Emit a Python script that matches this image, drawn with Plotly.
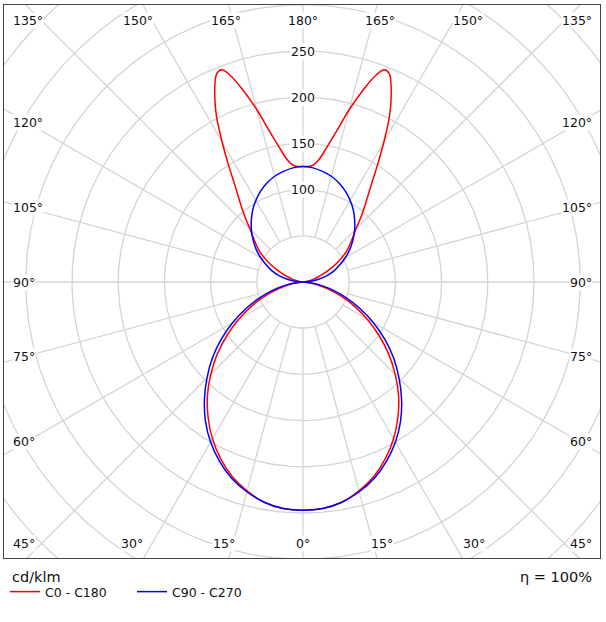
import numpy as np
import plotly.graph_objects as go

# ---------------- data (cd/klm vs gamma angle, 0 = down, 180 = up) ----------------
gamma_c0 = [0, 5, 10, 15, 20, 25, 30, 35, 40, 45, 50, 55, 60, 65, 70, 75, 80, 85, 90,
            95, 100, 105, 110, 115, 120, 125, 130, 132.5, 135, 137.5, 140, 142.5, 145,
            147.5, 150, 152.5, 155, 157.5, 159, 160.5, 162.5, 165, 167.5, 170, 172.5, 175, 177.5, 180]
c0_c180 = [247, 246, 242, 234, 224, 211, 196, 179, 161, 141, 121, 100, 80, 61, 43, 27, 14, 5, 0,
           2, 6, 12, 20, 31, 44, 57, 68, 74, 81, 91, 102, 114, 129,
           150, 175, 203, 226, 244, 246, 238, 219, 193, 167, 148, 134, 127, 125, 125]

gamma_c90 = list(range(0, 181, 5))
c90_c270 = [247, 246, 242, 235, 226, 214, 200, 184, 166, 147, 128, 108, 88, 68, 50, 33, 18, 6, 0,
            8, 17, 27, 36, 44, 53, 62, 70.5, 79, 87, 95, 102, 108.5, 114, 118.5, 121.5, 124, 125]

series_names = ["C0 - C180", "C90 - C270"]
series_colors = ["#ff0000", "#0000ff"]

circle_values = [50, 100, 150, 200, 250, 300, 350, 400, 450]
radial_labels = [100, 150, 200, 250]
spoke_angles = list(range(0, 360, 15))
angle_labels = list(range(0, 181, 15))
unit_label = "cd/klm"
efficiency_label = "η = 100%"

# ---------------- geometry ----------------
W, H = 606, 622
L, R, T, B = 4, 600, 5, 558      # plot box in px
CX, CY = 303, 282                # pole in px
PX = 0.924                       # px per cd/klm
x_range = [(L - CX) / PX, (R - CX) / PX]
y_range = [(CY - B) / PX, (CY - T) / PX]
FONT = "DejaVu Sans"


def polar_curve(gam, val):
    g = np.radians(np.asarray(gam, float))
    v = np.asarray(val, float)
    xr = v * np.sin(g)
    yr = -v * np.cos(g)
    x = np.concatenate([xr, -xr[::-1][1:]])
    y = np.concatenate([yr, yr[::-1][1:]])
    return x, y


fig = go.Figure()

# grid circles
t = np.linspace(0, 2 * np.pi, 721)
gx, gy = [], []
for r in circle_values:
    gx += list(r * np.cos(t)) + [None]
    gy += list(r * np.sin(t)) + [None]
fig.add_trace(go.Scatter(x=gx, y=gy, mode="lines", line=dict(color="#d4d4d4", width=1.3),
                         hoverinfo="skip", showlegend=False))

# spokes
sx, sy = [], []
for a in spoke_angles:
    ar = np.radians(a)
    sx += [circle_values[0] * np.sin(ar), 800 * np.sin(ar), None]
    sy += [-circle_values[0] * np.cos(ar), -800 * np.cos(ar), None]
fig.add_trace(go.Scatter(x=sx, y=sy, mode="lines", line=dict(color="#d4d4d4", width=1.3),
                         hoverinfo="skip", showlegend=False))

# curves
for (gam, val), name, col in zip([(gamma_c0, c0_c180), (gamma_c90, c90_c270)],
                                  series_names, series_colors):
    x, y = polar_curve(gam, val)
    fig.add_trace(go.Scatter(x=x, y=y, mode="lines", name=name,
                             line=dict(color=col, width=1.5, shape="spline", smoothing=1.0)))

annotations = []
# radial value labels on the 180 axis
for v in radial_labels:
    annotations.append(dict(x=0, y=v, text=str(v), showarrow=False, xref="x", yref="y",
                            font=dict(family=FONT, size=12.5, color="#111"),
                            bgcolor="white", borderpad=0))

# angle labels along the frame
XS, YT, YB = 299, 310, 320
Y_TOP, Y_BOT = (CY - 20) / PX, (CY - 543) / PX
X_LEFT, X_RIGHT = (12 - CX) / PX, (593 - CX) / PX
for g in angle_labels:
    sides = [1] if g in (0, 180) else [1, -1]
    for s in sides:
        dx = s * np.sin(np.radians(g))
        dy = -np.cos(np.radians(g))
        cands = []
        if abs(dx) > 1e-9:
            cands.append((XS / abs(dx), "side"))
        if dy > 1e-9:
            cands.append((YT / dy, "top"))
        if dy < -1e-9:
            cands.append((YB / -dy, "bot"))
        tt, kind = min(cands)
        px_, py_ = tt * dx, tt * dy
        if kind == "side":
            y = min(max(py_, Y_BOT), Y_TOP)
            x = X_LEFT if dx < 0 else X_RIGHT
            xa = "left" if dx < 0 else "right"
        else:
            y = Y_TOP if dy > 0 else Y_BOT
            x = px_
            xa = "center"
        annotations.append(dict(x=x, y=y, text=f"{g}°", showarrow=False, xref="x", yref="y",
                                xanchor=xa, yanchor="middle",
                                font=dict(family=FONT, size=12.5, color="#111"),
                                bgcolor="white", borderpad=0))

pw, ph = R - L, B - T
annotations.append(dict(x=(10 - L) / pw, y=-(577 - B) / ph, xref="paper", yref="paper",
                        text=unit_label, showarrow=False, xanchor="left", yanchor="middle",
                        font=dict(family=FONT, size=14.5, color="#111")))
annotations.append(dict(x=(594 - L) / pw, y=-(577 - B) / ph, xref="paper", yref="paper",
                        text=efficiency_label, showarrow=False, xanchor="right", yanchor="middle",
                        font=dict(family=FONT, size=14.5, color="#111")))

fig.update_layout(
    width=W, height=H,
    margin=dict(l=L, r=W - R, t=T, b=H - B),
    paper_bgcolor="white", plot_bgcolor="white",
    xaxis=dict(range=x_range, showgrid=False, zeroline=False, showticklabels=False, ticks="",
               showline=True, mirror=True, linecolor="#444", linewidth=1, fixedrange=True),
    yaxis=dict(range=y_range, showgrid=False, zeroline=False, showticklabels=False, ticks="",
               showline=True, mirror=True, linecolor="#444", linewidth=1, fixedrange=True),
    showlegend=True,
    legend=dict(orientation="h", x=(5 - L) / pw, y=-(592 - B) / ph, xanchor="left",
                yanchor="middle", font=dict(family=FONT, size=12.5, color="#111"),
                bgcolor="rgba(0,0,0,0)", itemwidth=30, tracegroupgap=0,
                entrywidth=82, entrywidthmode="pixels"),
    annotations=annotations,
)

fig.write_html("out.html")
